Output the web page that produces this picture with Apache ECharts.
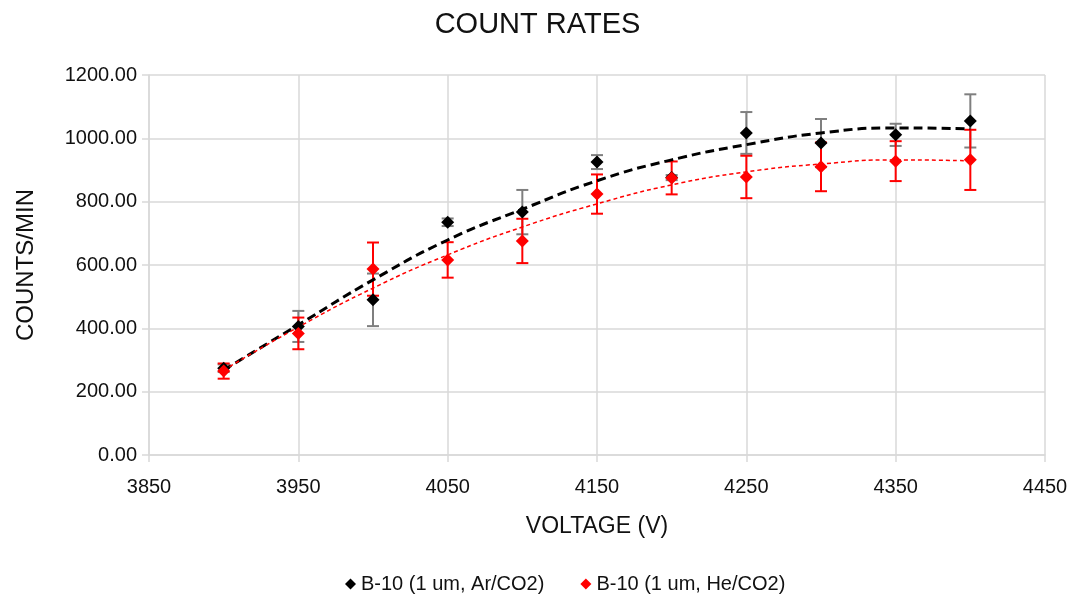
<!DOCTYPE html>
<html>
<head>
<meta charset="utf-8">
<title>COUNT RATES</title>
<script src="https://cdn.jsdelivr.net/npm/echarts@6/dist/echarts.min.js"></script>
<style>
html,body{margin:0;padding:0;background:#fff;}
#countRates{width:1075px;height:600px;}
</style>
</head>
<body>
<div id="countRates"></div>
<script>
// voltage steps (V)
var voltage=[3900,3950,4000,4050,4100,4150,4200,4250,4300,4350,4400];
// B-10 (1 um, Ar/CO2)
var arRate=[274,406,490,735,767,925,876,1017,985,1011,1055];
var arErr=[12,49,83,12,70,22,8,66,76,35,84];
// B-10 (1 um, He/CO2)
var heRate=[265,384,587,616,676,824,875,878,910,928,932];
var heErr=[24,50,84,56,70,62,52,67,77,63,95];
// trendlines
var arTrend=[268,411,553,679,776,866,932,980,1017,1033,1030];
var heTrend=[268,404,527,632,720,793,853,894,919,932,929];
// axis tick labels
var xTicks=['3850','3950','4050','4150','4250','4350','4450'];

var fontName='Liberation Sans';
var gridColor='#d9d9d9';

function pairs(xs,ys){
	var out=[];
	for(var i=0;i<xs.length;i++){
		out.push([xs[i],ys[i]]);
	}
	return out;
}
function errRows(xs,ys,es){
	var out=[];
	for(var i=0;i<xs.length;i++){
		out.push([xs[i],ys[i]-es[i],ys[i]+es[i]]);
	}
	return out;
}
function errorBar(color){
	return function(params,api){
		var x=api.value(0);
		var top=api.coord([x,api.value(2)]);
		var bot=api.coord([x,api.value(1)]);
		var half=6;
		var st={stroke:color,lineWidth:2};
		return {
			type:'group',
			children:[
				{type:'line',shape:{x1:top[0],y1:top[1],x2:bot[0],y2:bot[1]},style:st},
				{type:'line',shape:{x1:top[0]-half,y1:top[1],x2:top[0]+half,y2:top[1]},style:st},
				{type:'line',shape:{x1:bot[0]-half,y1:bot[1],x2:bot[0]+half,y2:bot[1]},style:st}
			]
		};
	};
}

var myChart=echarts.init(document.getElementById('countRates'));
var option={
	animation:false,
	backgroundColor:'#fff',
	textStyle:{fontFamily:fontName,color:'#111'},
	title:{
		text:'COUNT RATES',
		left:'center',
		top:5,
		textStyle:{fontFamily:fontName,fontSize:29,fontWeight:'normal',color:'#111'}
	},
	legend:{
		data:['B-10 (1 um, Ar/CO2)','B-10 (1 um, He/CO2)'],
		left:340,
		top:569,
		icon:'diamond',
		itemWidth:11,
		itemHeight:11,
		itemGap:36,
		textStyle:{fontFamily:fontName,fontSize:20,color:'#111'}
	},
	grid:{left:149,right:30,top:75,bottom:145},
	xAxis:[{
		// data axis
		type:'value',
		min:3850,
		max:4450,
		show:false
	},{
		// visible tick axis
		type:'category',
		data:xTicks,
		boundaryGap:false,
		position:'bottom',
		name:'VOLTAGE (V)',
		nameLocation:'middle',
		nameGap:60,
		nameTextStyle:{fontFamily:fontName,fontSize:23,color:'#111'},
		axisLine:{lineStyle:{color:gridColor,width:1.5}},
		axisTick:{show:true,length:7,interval:0,lineStyle:{color:gridColor,width:1.5}},
		splitLine:{show:true,interval:0,lineStyle:{color:gridColor,width:1.5}},
		axisLabel:{interval:0,fontSize:20,color:'#111',margin:22}
	}],
	yAxis:{
		type:'value',
		min:0,
		max:1200,
		interval:200,
		name:'COUNTS/MIN',
		nameLocation:'middle',
		nameGap:111,
		nameTextStyle:{fontFamily:fontName,fontSize:24,color:'#111'},
		axisLine:{show:true,lineStyle:{color:gridColor,width:1.5}},
		axisTick:{show:true,length:7,lineStyle:{color:gridColor,width:1.5}},
		splitLine:{show:true,lineStyle:{color:gridColor,width:1.5}},
		axisLabel:{
			fontSize:20,color:'#111',margin:12,
			formatter:function(v){return v.toFixed(2);}
		}
	},
	series:[{
		type:'custom',
		name:'arErr',
		xAxisIndex:0,
		renderItem:errorBar('#7f7f7f'),
		encode:{x:0,y:[1,2]},
		data:errRows(voltage,arRate,arErr),
		z:2
	},{
		type:'custom',
		name:'heErr',
		xAxisIndex:0,
		renderItem:errorBar('#ff0000'),
		encode:{x:0,y:[1,2]},
		data:errRows(voltage,heRate,heErr),
		z:3
	},{
		type:'line',
		name:'arTrend',
		xAxisIndex:0,
		smooth:true,
		showSymbol:false,
		lineStyle:{color:'#000',width:3,type:[9,5]},
		data:pairs(voltage,arTrend),
		z:4
	},{
		type:'line',
		name:'heTrend',
		xAxisIndex:0,
		smooth:true,
		showSymbol:false,
		lineStyle:{color:'#ff0000',width:1.5,type:[4,3]},
		data:pairs(voltage,heTrend),
		z:4
	},{
		type:'scatter',
		name:'B-10 (1 um, Ar/CO2)',
		xAxisIndex:0,
		symbol:'diamond',
		symbolSize:13,
		itemStyle:{color:'#000',opacity:1},
		data:pairs(voltage,arRate),
		z:5
	},{
		type:'scatter',
		name:'B-10 (1 um, He/CO2)',
		xAxisIndex:0,
		symbol:'diamond',
		symbolSize:13,
		itemStyle:{color:'#ff0000',opacity:1},
		data:pairs(voltage,heRate),
		z:6
	}]
};
myChart.setOption(option);
</script>
</body>
</html>
